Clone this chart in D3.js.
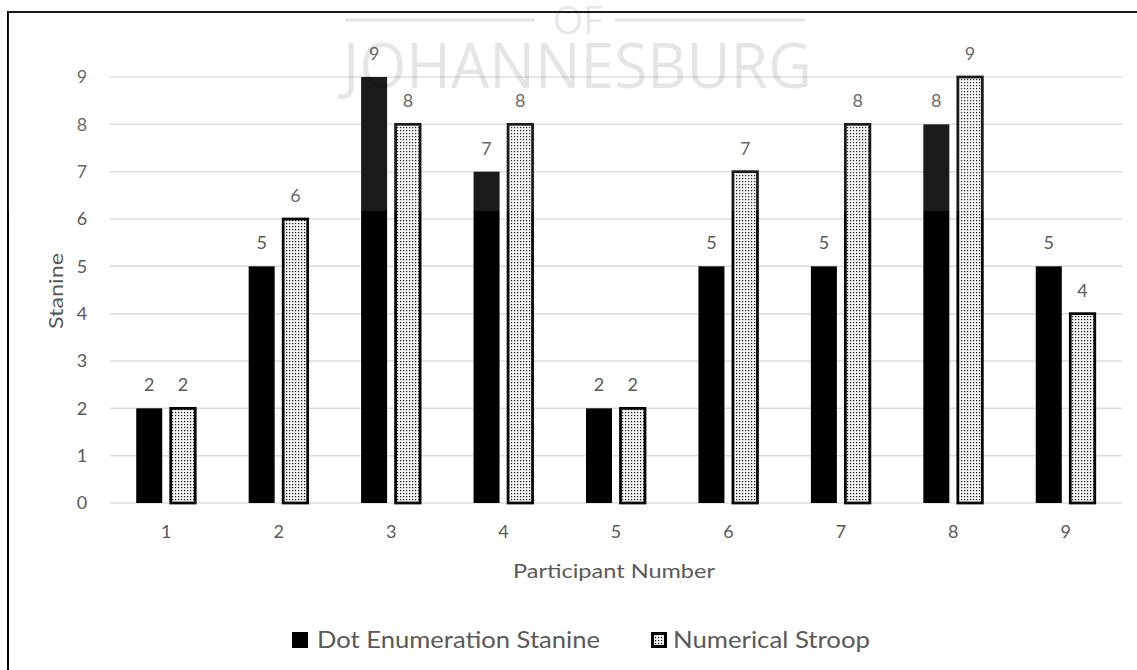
<!DOCTYPE html>
<html>
<head>
<meta charset="utf-8">
<script src="https://cdn.jsdelivr.net/npm/d3@7"></script>
<style>
  html, body { margin: 0; padding: 0; background: #fff; }
  svg { display: block; }
  text { font-family: Lato, "Open Sans", sans-serif; }
</style>
</head>
<body>
<svg id="chart" width="1137" height="670"></svg>
<script>
// Participant stanine scores
const participants = ["1", "2", "3", "4", "5", "6", "7", "8", "9"];
const dotEnumeration = [2, 5, 9, 7, 2, 5, 5, 8, 5];
const numericalStroop = [2, 6, 8, 8, 2, 7, 8, 9, 4];
const yTicks = [0, 1, 2, 3, 4, 5, 6, 7, 8, 9];
const seriesNames = ["Dot Enumeration Stanine", "Numerical Stroop"];

const svg = d3.select("#chart");
const W = 1137, H = 670;
const plot = { left: 110, right: 1122, top: 77, bottom: 503 };
const textGrey = "#595959";

// Dotted fill used for the Numerical Stroop bars
const defs = svg.append("defs");
const pat = defs.append("pattern")
  .attr("id", "dots").attr("patternUnits", "userSpaceOnUse")
  .attr("width", 3).attr("height", 3);
pat.append("rect").attr("width", 3).attr("height", 3).attr("fill", "#f4f4f4");
pat.append("rect").attr("x", 1).attr("y", 1).attr("width", 1.2).attr("height", 1.2).attr("fill", "#111");

// Frame
svg.append("rect").attr("width", W).attr("height", H).attr("fill", "#fff");
svg.append("path")
  .attr("d", `M8,${H} L8,12 L${W},12`)
  .attr("fill", "none").attr("stroke", "#000").attr("stroke-width", 2);

const x = d3.scaleBand().domain(participants).range([plot.left, plot.right]);
const y = d3.scaleLinear().domain([0, 9]).range([plot.bottom, plot.top]);

// Gridlines
svg.append("g").selectAll("line").data(yTicks).join("line")
  .attr("x1", plot.left).attr("x2", plot.right)
  .attr("y1", d => y(d)).attr("y2", d => y(d))
  .attr("stroke", "#dcdcdc").attr("stroke-width", 1.5);

// Y axis labels
const yAxis = svg.append("g")
  .attr("transform", `translate(${plot.left},0)`)
  .call(d3.axisLeft(y).tickValues(yTicks).tickSize(0).tickPadding(28));
yAxis.select(".domain").remove();
yAxis.selectAll("text")
  .attr("font-size", 18).attr("fill", textGrey).attr("text-anchor", "middle");

// X axis labels
const xAxis = svg.append("g")
  .attr("transform", `translate(0,${plot.bottom})`)
  .call(d3.axisBottom(x).tickSize(0).tickPadding(22));
xAxis.select(".domain").remove();
xAxis.selectAll("text").attr("font-size", 18).attr("fill", textGrey);

// Axis titles
svg.append("text")
  .attr("transform", `translate(63,${(plot.top + plot.bottom) / 2 + 1}) rotate(-90)`)
  .attr("text-anchor", "middle").attr("font-size", 20).attr("fill", textGrey)
  .attr("textLength", 76).attr("lengthAdjust", "spacingAndGlyphs")
  .text("Stanine");
svg.append("text")
  .attr("x", 614).attr("y", 578)
  .attr("text-anchor", "middle").attr("font-size", 20).attr("fill", textGrey)
  .attr("textLength", 202).attr("lengthAdjust", "spacingAndGlyphs")
  .text("Participant Number");

// Bars
const cx = p => x(p) + x.bandwidth() / 2;
const barW = 26;

const g = svg.append("g");
g.selectAll("rect.dot").data(participants).join("rect")
  .attr("class", "dot")
  .attr("x", p => cx(p) - 30)
  .attr("y", (p, i) => y(dotEnumeration[i]))
  .attr("width", barW)
  .attr("height", (p, i) => y(0) - y(dotEnumeration[i]))
  .attr("fill", "#000");

g.selectAll("rect.stroop").data(participants).join("rect")
  .attr("class", "stroop")
  .attr("x", p => cx(p) + 4.5)
  .attr("y", (p, i) => y(numericalStroop[i]))
  .attr("width", barW - 1.5)
  .attr("height", (p, i) => y(0) - y(numericalStroop[i]))
  .attr("fill", "url(#dots)")
  .attr("stroke", "#000").attr("stroke-width", 2.75);

// Value labels
g.selectAll("text.dotLabel").data(participants).join("text")
  .attr("class", "dotLabel")
  .attr("x", p => cx(p) - 30 + barW / 2)
  .attr("y", (p, i) => y(dotEnumeration[i]) - 17)
  .attr("text-anchor", "middle").attr("font-size", 18).attr("fill", textGrey)
  .text((p, i) => dotEnumeration[i]);

g.selectAll("text.stroopLabel").data(participants).join("text")
  .attr("class", "stroopLabel")
  .attr("x", p => cx(p) + 4.5 + (barW - 1.5) / 2)
  .attr("y", (p, i) => y(numericalStroop[i]) - 17)
  .attr("text-anchor", "middle").attr("font-size", 18).attr("fill", textGrey)
  .text((p, i) => numericalStroop[i]);

// Legend
const legend = svg.append("g");
legend.append("rect").attr("x", 292).attr("y", 632).attr("width", 16).attr("height", 16).attr("fill", "#000");
legend.append("text").attr("x", 317).attr("y", 648)
  .attr("font-size", 23).attr("fill", textGrey)
  .attr("textLength", 283).attr("lengthAdjust", "spacingAndGlyphs")
  .text(seriesNames[0]);
legend.append("rect").attr("x", 651).attr("y", 632).attr("width", 16).attr("height", 16).attr("fill", "#000");
legend.append("rect").attr("x", 654).attr("y", 635).attr("width", 10).attr("height", 10).attr("fill", "url(#dots)");
legend.append("text").attr("x", 673).attr("y", 648)
  .attr("font-size", 23).attr("fill", textGrey)
  .attr("textLength", 197).attr("lengthAdjust", "spacingAndGlyphs")
  .text(seriesNames[1]);

// Watermark overlay
const wm = svg.append("g");
wm.append("rect").attr("x", 8).attr("y", 0).attr("width", W - 8).attr("height", 211)
  .attr("fill", "#fff").attr("opacity", 0.1);
wm.append("line").attr("x1", 345).attr("x2", 535).attr("y1", 20).attr("y2", 20)
  .attr("stroke", "#000").attr("stroke-opacity", 0.1).attr("stroke-width", 3);
wm.append("line").attr("x1", 615).attr("x2", 805).attr("y1", 20).attr("y2", 20)
  .attr("stroke", "#000").attr("stroke-opacity", 0.1).attr("stroke-width", 3);
wm.append("text").attr("x", 578).attr("y", 34).attr("text-anchor", "middle")
  .style("font-family", "'Open Sans', sans-serif")
  .attr("font-size", 39).attr("fill", "#000").attr("fill-opacity", 0.1).text("OF");
wm.append("text").attr("x", 343).attr("y", 88)
  .style("font-family", "'Open Sans', sans-serif")
  .attr("font-size", 63).attr("textLength", 469).attr("lengthAdjust", "spacingAndGlyphs")
  .attr("fill", "#000").attr("fill-opacity", 0.1).text("JOHANNESBURG");
</script>
</body>
</html>
